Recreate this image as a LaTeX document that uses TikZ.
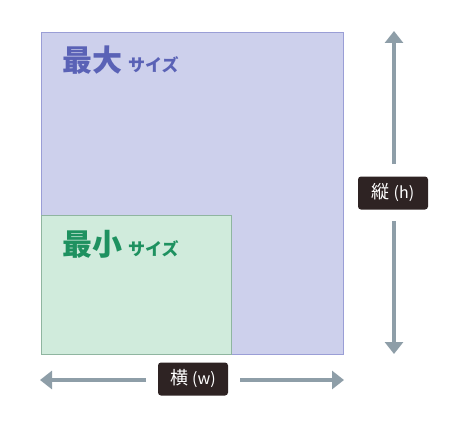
\documentclass[tikz,border=0pt]{standalone}
\usepackage{fontspec}
\newfontfamily\jp{Noto Sans CJK JP}
\usetikzlibrary{arrows.meta}
\definecolor{bigfill}{HTML}{CDD0EC}
\definecolor{bigline}{HTML}{9A9ED6}
\definecolor{bigtext}{HTML}{5A62B6}
\definecolor{smallfill}{HTML}{D0EBDC}
\definecolor{smallline}{HTML}{8FB5A0}
\definecolor{smalltext}{HTML}{1E9160}
\definecolor{arrowgray}{HTML}{8E9EA8}
\definecolor{labelbg}{HTML}{2E2323}
\tikzset{
  dimarrow/.style={draw=arrowgray, line width=3.2pt, -{Triangle[width=18pt,length=12pt]}},
  dimlabel/.style={fill=labelbg, text=white, rounded corners=3pt, minimum width=70pt, minimum height=33pt, inner sep=0pt, font=\jp\fontsize{18}{20}\selectfont},
  sizetext/.style={anchor=base west, inner sep=0pt, font=\jp\bfseries}
}
\begin{document}
\begin{tikzpicture}[x=1pt,y=-1pt]
\useasboundingbox (0,0) rectangle (465,420);
% rectangles
\draw[fill=bigfill, draw=bigline, line width=0.8pt] (41,32) rectangle (343,354);
\draw[fill=smallfill, draw=smallline, line width=0.8pt] (41,215) rectangle (231,354);
% texts
\node[sizetext, text=bigtext] (maxt) at (62,71) {{\fontsize{30}{32}\selectfont 最大}\hspace{6pt}{\fontsize{17}{18}\selectfont サイズ}};
\node[sizetext, text=smalltext] (mint) at (62,255) {{\fontsize{30}{32}\selectfont 最小}\hspace{6pt}{\fontsize{17}{18}\selectfont サイズ}};
% vertical dimension
\node[dimlabel] (hlab) at (393,193) {縦\hspace{4pt}{\fontsize{16}{17}\selectfont (h)}};
\coordinate (htop) at (394,31);
\coordinate (hbot) at (394,354);
\draw[dimarrow] (394,164) -- (htop);
\draw[dimarrow] (394,221) -- (hbot);
% horizontal dimension
\node[dimlabel] (wlab) at (193,379) {横\hspace{4pt}{\fontsize{16}{17}\selectfont (w)}};
\coordinate (wleft) at (40,380);
\coordinate (wright) at (344,380);
\draw[dimarrow] (146,380) -- (wleft);
\draw[dimarrow] (240,380) -- (wright);
\end{tikzpicture}
\end{document}
